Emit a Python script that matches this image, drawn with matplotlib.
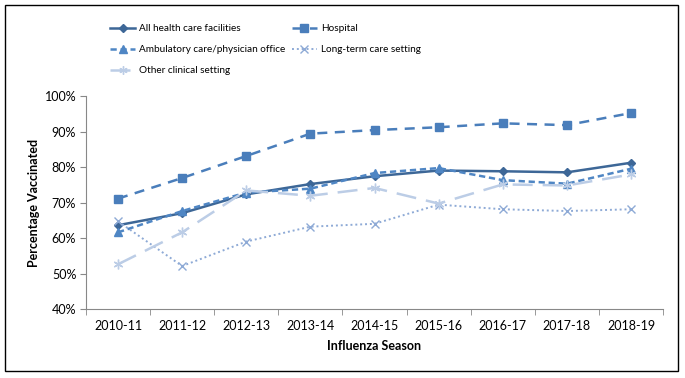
import matplotlib.pyplot as plt
from matplotlib.patches import Rectangle
from matplotlib.ticker import FuncFormatter

plt.rcParams['font.family'] = ['Lato', 'DejaVu Sans']

seasons = ['2010-11', '2011-12', '2012-13', '2013-14', '2014-15',
           '2015-16', '2016-17', '2017-18', '2018-19']
all_facilities = [63.6, 67.0, 72.3, 75.2, 77.4, 79.0, 78.8, 78.5, 81.2]
hospital = [71.1, 76.9, 83.1, 89.4, 90.4, 91.2, 92.3, 91.8, 95.2]
ambulatory = [61.6, 67.6, 72.8, 73.9, 78.3, 79.7, 76.3, 75.3, 79.5]
long_term = [64.7, 52.1, 59.0, 63.2, 64.0, 69.4, 68.1, 67.6, 68.1]
other_clinical = [52.6, 61.6, 73.4, 71.9, 74.1, 69.7, 75.1, 74.8, 77.9]

x = list(range(len(seasons)))

fig = plt.figure(figsize=(6.85, 3.78), dpi=100)
ax = fig.add_axes([0.1255, 0.1825, 0.8425, 0.5635])

h_all, = ax.plot(x, all_facilities, color='#3d6797', lw=1.8, marker='D', ms=4.5,
                 label='All health care facilities')
h_hosp, = ax.plot(x, hospital, color='#4a7ebb', lw=1.8, ls=(0, (4, 3)), marker='s', ms=6,
                  label='Hospital')
h_amb, = ax.plot(x, ambulatory, color='#4f86c4', lw=1.8, ls=(0, (2.5, 1.5)), marker='^',
                 ms=6, label='Ambulatory care/physician office')
h_ltc, = ax.plot(x, long_term, color='#8eaad6', lw=1.4, ls=(0, (1, 1.5)), marker='x', ms=6,
                 mew=1.0, label='Long-term care setting')
h_oth, = ax.plot(x, other_clinical, color='#bccde6', lw=1.8, ls=(0, (8, 4)),
                 marker=(6, 2, 0), ms=7, mew=1.0, label='Other clinical setting')

ax.set_xlim(-0.5, len(seasons) - 0.5)
ax.set_ylim(40, 100)
ax.set_yticks(range(40, 101, 10))
ax.yaxis.set_major_formatter(FuncFormatter(lambda v, p: f'{v:.0f}%'))
ax.set_xticks(x)
ax.set_xticklabels(seasons)
ax.set_xticks([i - 0.5 for i in range(len(seasons) + 1)], minor=True)
ax.tick_params(axis='x', which='major', length=0, pad=8, labelsize=9)
ax.tick_params(axis='x', which='minor', length=4, color='#888888')
ax.tick_params(axis='y', length=4, color='#888888', labelsize=9, pad=3)

for s in ['top', 'right']:
    ax.spines[s].set_visible(False)
for s in ['left', 'bottom']:
    ax.spines[s].set_color('#888888')

ax.set_xlabel('Influenza Season', fontweight='bold', fontsize=9, labelpad=6)
ax.set_ylabel('Percentage Vaccinated', fontweight='bold', fontsize=9, labelpad=3)

# row-wise legend order: columns are filled first in matplotlib
handles = [h_all, h_amb, h_oth, h_hosp, h_ltc]
fig.legend(handles=handles, labels=[h.get_label() for h in handles],
           loc='upper left', bbox_to_anchor=(0.148, 0.96), ncol=2, frameon=False,
           fontsize=7.2, handlelength=2.5, columnspacing=0.6, labelspacing=1.2,
           handletextpad=0.4, markerscale=0.85)

fig.patches.append(Rectangle((0.007, 0.018), 0.983, 0.97, transform=fig.transFigure,
                             fill=False, edgecolor='black', lw=1.0))

fig.savefig('out.png', dpi=100)
